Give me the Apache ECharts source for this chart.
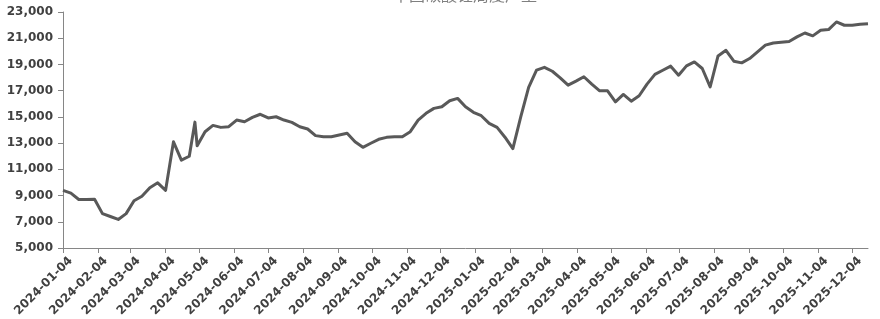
<!DOCTYPE html>
<html>
<head>
<meta charset="utf-8">
<script src="https://cdn.jsdelivr.net/npm/echarts@6/dist/echarts.min.js"></script>
<style>html,body{margin:0;padding:0;background:#fff;}#c{width:880px;height:319px;}</style>
</head>
<body>
<div id="c"></div>
<script>
// ---- data ----
const titleText = '中国碳酸锂周度产量';
const startDate = '2024-01-04';
const endDate = '2025-12-18';
// weekly observations (Thursdays), plus one extra pre-holiday release
const extraDates = ['2024-04-30'];
const extraValues = [14600];
const weeklyValues = [
  9400, 9180, 8700, 8700, 8720, 7620, 7400, 7180, 7620, 8600,
  8950, 9600, 9970, 9400, 13100, 11700, 12000, 12800, 13870, 14350,
  14200, 14250, 14760, 14630, 14960, 15200, 14920, 15010, 14760, 14580,
  14250, 14075, 13570, 13490, 13490, 13620, 13750, 13110, 12680, 12990,
  13290, 13440, 13490, 13490, 13870, 14760, 15270, 15650, 15770, 16230,
  16410, 15770, 15350, 15090, 14510, 14200, 13450, 12580, 15000, 17250,
  18560, 18780, 18480, 17980, 17420, 17730, 18060, 17500, 16990, 16990,
  16150, 16710, 16200, 16610, 17500, 18240, 18560, 18870, 18180, 18890,
  19190, 18690, 17290, 19650, 20080, 19250, 19120, 19450, 19960, 20470,
  20640, 20690, 20750, 21100, 21400, 21180, 21610, 21660, 22240, 21990,
  21990, 22060, 22110
];
const yMin = 5000, yMax = 23000, yStep = 2000;

// ---- build axis categories (daily) and series pairs ----
function fmt(d){
  const m = String(d.getUTCMonth()+1).padStart(2,'0');
  const dd = String(d.getUTCDate()).padStart(2,'0');
  return d.getUTCFullYear()+'-'+m+'-'+dd;
}
const dayMs = 86400000;
const t0 = Date.parse(startDate+'T00:00:00Z');
const t1 = Date.parse(endDate+'T00:00:00Z');
const days = [];
for (let t = t0; t <= t1; t += dayMs) days.push(fmt(new Date(t)));
const weeklyDates = weeklyValues.map((_, i) => fmt(new Date(t0 + i*7*dayMs)));
let pairs = weeklyDates.map((d, i) => [d, weeklyValues[i]]);
extraDates.forEach((d, i) => pairs.push([d, extraValues[i]]));
pairs.sort((a, b) => a[0] < b[0] ? -1 : 1);

const isMonthTick = (idx, val) => String(val).slice(8) === '04';

const chart = echarts.init(document.getElementById('c'), null, {renderer: 'canvas'});
chart.setOption({
  animation: false,
  backgroundColor: '#ffffff',
  title: {
    text: titleText,
    left: 465,
    textAlign: 'center',
    top: -13,
    padding: 0,
    textStyle: {fontFamily: 'Noto Sans CJK SC', fontSize: 16, fontWeight: 'normal', color: '#7f7f7f'}
  },
  grid: {left: 63, right: 12, top: 12, bottom: 71, containLabel: false, outerBoundsMode: 'none'},
  xAxis: {
    type: 'category',
    data: days,
    boundaryGap: false,
    axisLine: {show: true, lineStyle: {color: '#868686', width: 1}},
    axisTick: {show: true, interval: isMonthTick, length: 5, lineStyle: {color: '#868686'}},
    axisLabel: {
      interval: isMonthTick,
      rotate: 45,
      margin: 3,
      verticalAlign: 'top',
      padding: [5, 0, 0, 0],
      fontFamily: 'DejaVu Sans',
      fontSize: 12,
      fontWeight: 'bold',
      color: '#404040'
    },
    splitLine: {show: false}
  },
  yAxis: {
    type: 'value',
    min: yMin, max: yMax, interval: yStep,
    axisLine: {show: true, lineStyle: {color: '#868686', width: 1}},
    axisTick: {show: true, length: 5, lineStyle: {color: '#868686'}},
    axisLabel: {
      margin: 10,
      fontFamily: 'DejaVu Sans',
      fontSize: 12,
      fontWeight: 'bold',
      color: '#404040',
      formatter: v => v.toLocaleString('en-US')
    },
    splitLine: {show: false}
  },
  series: [{
    type: 'line',
    data: pairs,
    showSymbol: false,
    symbol: 'none',
    lineStyle: {color: '#595959', width: 3, join: 'round'},
    itemStyle: {color: '#595959'}
  }]
});
</script>
</body>
</html>
